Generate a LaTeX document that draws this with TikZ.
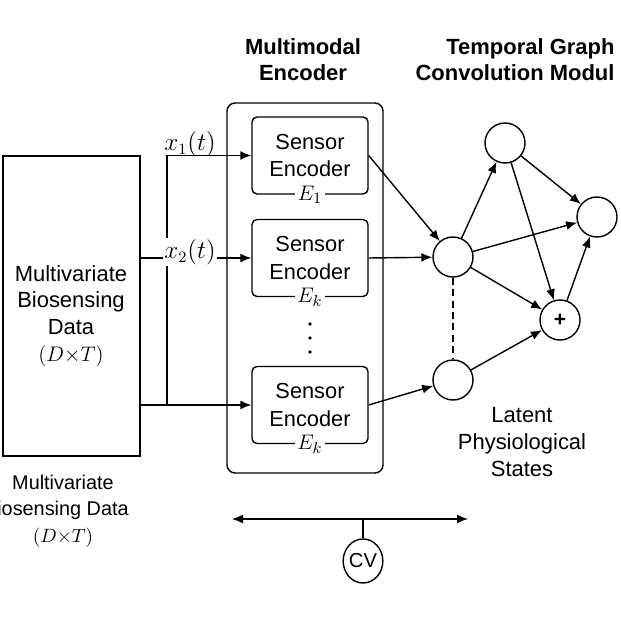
\documentclass[tikz,border=0pt]{standalone}
\usepackage{fontspec}
\setmainfont{Liberation Sans}
\usetikzlibrary{arrows.meta, shapes.geometric}
\tikzstyle{conn} = [-{Latex[length=2.2mm, width=1.8mm]}, line width=0.8pt]
\tikzstyle{encbox} = [draw, rounded corners=0.1cm, minimum width=2.32cm, minimum height=1.54cm, align=center, font=\fontsize{12.4}{15.5}\selectfont]
\tikzstyle{state} = [draw, circle, minimum size=0.8cm, inner sep=0pt]
\tikzstyle{title} = [align=center, font=\fontsize{12.5}{14.7}\selectfont\bfseries]
\tikzstyle{body} = [align=center, font=\fontsize{12.5}{15.2}\selectfont]

\begin{document}
\begin{tikzpicture}[x=0.02cm, y=-0.02cm, line width=0.8pt]
    \useasboundingbox (0,0) rectangle (621,621);

    % Input data
    \node[draw, minimum width=2.74cm, minimum height=6cm] (data) at (71.5,306) {};
    \node[body] (datatxt) at (71,316) {Multivariate\\Biosensing\\Data\\$(D{\times}T)$};
    \node[align=center, font=\fontsize{11.3}{15}\selectfont] (datacap) at (63,511) {Multivariate\\iosensing Data\\$(D{\times}T)$};

    % Multimodal encoder
    \node[draw, rounded corners=0.16cm, minimum width=3.12cm, minimum height=7.4cm] (menc) at (305,288) {};
    \node[title] (mtitle) at (303,60) {Multimodal\\Encoder};
    \node[encbox] (enc1) at (310,155.5) {Sensor\\Encoder};
    \node[encbox] (enc2) at (310,258) {Sensor\\Encoder};
    \node[encbox] (enc3) at (310,405) {Sensor\\Encoder};
    \foreach \n/\l in {enc1/E_1, enc2/E_k, enc3/E_k} {
        \node[fill=white, inner sep=1.5pt, font=\fontsize{13}{13}\selectfont] (\n-lab) at (\n.south) {$\l$};
    }
    \foreach \y in {324,338,352} {
        \fill (310,\y) circle (1.1pt);
    }

    % Input lines
    \coordinate (split) at (167,157);
    \draw[conn] (data.east |- enc2.west) -- (enc2.west);
    \draw[conn] (data.east |- enc3.west) -- (enc3.west);
    \draw[conn] (split |- enc3.west) |- (enc1.west);
    \node[font=\fontsize{13.5}{13.5}\selectfont] (x1lab) at (190,144) {$x_1(t)$};
    \node[fill=white, inner sep=1pt, font=\fontsize{13.5}{13.5}\selectfont] (x2lab) at (190,252) {$x_2(t)$};

    % Temporal graph module
    \node[title, align=right, anchor=east] (gtitle) at (621,60) {Temporal Graph\\Convolution Modul};
    \node[state] (gt) at (505,143) {};
    \node[state] (gr) at (597,217) {};
    \node[state] (gm) at (453,257) {};
    \node[state, font=\fontsize{12}{12}\selectfont\bfseries] (gp) at (560,320) {+};
    \node[state] (gb) at (453,380) {};
    \draw[conn] (enc1.east) -- (gm);
    \draw[conn] (enc2.east) -- (gm);
    \draw[conn] (enc3.east) -- (gb);
    \draw[conn] (gm) -- (gt);
    \draw[conn] (gm) -- (gr);
    \draw[conn] (gm) -- (gp);
    \draw[conn] (gt) -- (gr);
    \draw[conn] (gt) -- (gp);
    \draw[conn] (gp) -- (gr);
    \draw[conn] (gb) -- (gp);
    \draw[dash pattern=on 4pt off 2.5pt] (gm) -- (gb);
    \node[body] (latent) at (522,442) {Latent\\Physiological\\States};

    % Time axis
    \coordinate (tl) at (232,519);
    \coordinate (tr) at (468,519);
    \draw[{Latex[length=2.2mm, width=1.8mm]}-{Latex[length=2.2mm, width=1.8mm]}] (tl) -- (tr);
    \node[draw, ellipse, minimum width=0.72cm, minimum height=0.88cm, inner sep=0pt, font=\fontsize{11.5}{11.5}\selectfont] (cv) at (363,561) {CV};
    \draw (cv.north) -- (cv.north |- tl);
\end{tikzpicture}
\end{document}
